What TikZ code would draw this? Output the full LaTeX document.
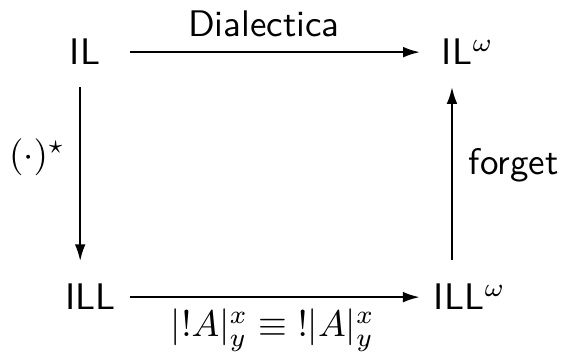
\documentclass[tikz,border=0pt]{standalone}
\usetikzlibrary{arrows.meta,calc}
\begin{document}
\begin{tikzpicture}[x=0.2703pt,y=-0.2703pt,
  obj/.style={inner sep=0pt,outer sep=0pt,text height=0.694em,text depth=0pt,font=\sffamily},
  lbl/.style={inner sep=0pt,outer sep=0pt},
  arr/.style={line width=0.65pt,-{Latex[length=4.6pt,width=2.9pt]}}]
\useasboundingbox (0,0) rectangle (563,358);
\node[obj,anchor=base west] (IL) at (70,65) {IL};
\node[obj,anchor=base west] (ILw) at (442,65) {IL$^\omega$};
\node[obj,anchor=base west] (ILL) at (65,310) {ILL};
\node[obj,anchor=base west] (ILLw) at (434,310) {ILL$^\omega$};
\draw[arr] ($(IL.east)+(8.1pt,0)$) -- ($(IL.east -| ILw.west)+(-5.9pt,0)$);
\draw[arr] ($(ILL.east)+(3.9pt,0)$) -- ($(ILL.east -| ILLw.west)+(-3.8pt,0)$);
\draw[arr] ($(IL.south)+(-1.35pt,-5.9pt)$) -- ($(IL.south |- ILL.north)+(-1.35pt,6.2pt)$);
\draw[arr] ($(ILw.west |- ILLw.north)+(2.7pt,6.5pt)$) -- ($(ILw.south west)+(2.7pt,-5.9pt)$);
\node[lbl,anchor=base,font=\sffamily] (dia) at (264,37) {Dialectica};
\node[lbl,anchor=base west] (star) at (9,167) {$(\cdot)^\star$};
\node[lbl,anchor=base west,font=\sffamily] (fg) at (469,175) {forget};
\node[lbl,anchor=base west] (eq) at (171,337) {$|!A|^x_y\equiv{}!|A|^x_y$};
\end{tikzpicture}
\end{document}
